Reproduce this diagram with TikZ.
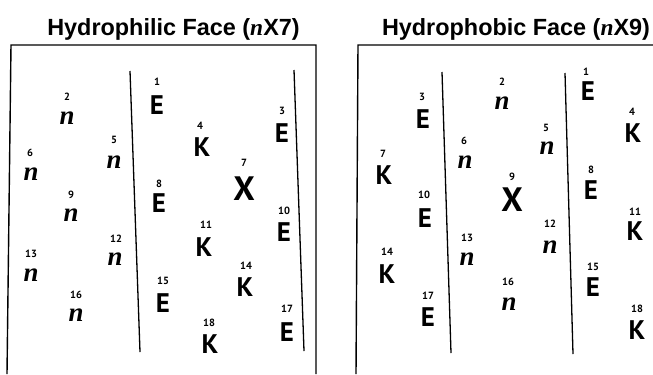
\documentclass[tikz,border=0pt]{standalone}
\usepackage{fontspec}
\setmainfont{Liberation Sans}
\newfontfamily\titlefont{Liberation Sans}
\newfontfamily\serifit{Liberation Serif}
\newfontfamily\resfont{PT Sans}
\begin{document}
\begin{tikzpicture}[x=1bp,y=-1bp,
  frame/.style={line width=1.4bp},
  helixline/.style={line width=1.3bp},
  ttl/.style={inner sep=0, anchor=base, font=\titlefont\bfseries\fontsize{23.5}{24}\selectfont},
  resE/.style={inner sep=0, font=\resfont\bfseries\fontsize{27}{27}\selectfont},
  resX/.style={inner sep=0, font=\resfont\bfseries\fontsize{34}{34}\selectfont},
  resn/.style={inner sep=0, font=\serifit\bfseries\itshape\fontsize{27}{27}\selectfont},
  idx/.style={inner sep=0, font=\resfont\bfseries\fontsize{10.5}{11}\selectfont}]
\useasboundingbox (0,0) rectangle (653,374);
\fill[white] (0,0) rectangle (653,374);

% headings
\node[ttl] (t1) at (173.5,35) {Hydrophilic Face ({\serifit\bfseries\itshape n}X7)};
\node[ttl] (t2) at (516,35) {Hydrophobic Face ({\serifit\bfseries\itshape n}X9)};

% frames (open at the bottom / right where they leave the page)
\draw[frame] (7,374) -- (11,45) -- (316,45) -- (316,374);
\draw[frame] (356,374) -- (358,45) -- (653,45);

% helix boundaries
\draw[helixline] (130,71) -- (140,352);
\draw[helixline] (294,70) -- (304,351);
\draw[helixline] (442,72) -- (451,353);
\draw[helixline] (565,73) -- (573,354);

% ---- hydrophilic face ----
\node[resE] (a1)  at (157,105) {E};  \node[idx] (a1i)  at (157,82)  {1};
\node[resn] (a2)  at (67,118)  {n};  \node[idx] (a2i)  at (67,97)   {2};
\node[resE] (a3)  at (282,133) {E};  \node[idx] (a3i)  at (282,111) {3};
\node[resE] (a4)  at (202,147) {K};  \node[idx] (a4i)  at (200,126) {4};
\node[resn] (a5)  at (114,162) {n};  \node[idx] (a5i)  at (114,140) {5};
\node[resn] (a6)  at (31,174)  {n};  \node[idx] (a6i)  at (30,153)  {6};
\node[resX] (a7)  at (244,189) {X};  \node[idx] (a7i)  at (244,163) {7};
\node[resE] (a8)  at (159,203) {E};  \node[idx] (a8i)  at (159,184) {8};
\node[resn] (a9)  at (71,215)  {n};  \node[idx] (a9i)  at (71,195)  {9};
\node[resE] (a10) at (284,232) {E};  \node[idx] (a10i) at (284,211) {10};
\node[resE] (a11) at (204,247) {K};  \node[idx] (a11i) at (206,225) {11};
\node[resn] (a12) at (115,259) {n};  \node[idx] (a12i) at (116,239) {12};
\node[resn] (a13) at (31,275)  {n};  \node[idx] (a13i) at (31,254)  {13};
\node[resE] (a14) at (245,287) {K};  \node[idx] (a14i) at (246,266) {14};
\node[resE] (a15) at (163,303) {E};  \node[idx] (a15i) at (163,281) {15};
\node[resn] (a16) at (76,315)  {n};  \node[idx] (a16i) at (76,295)  {16};
\node[resE] (a17) at (287,332) {E};  \node[idx] (a17i) at (287,309) {17};
\node[resE] (a18) at (210,344) {K};  \node[idx] (a18i) at (209,323) {18};

% ---- hydrophobic face ----
\node[resE] (b1)  at (588,91)  {E};  \node[idx] (b1i)  at (586,72)  {1};
\node[resn] (b2)  at (502,103) {n};  \node[idx] (b2i)  at (502,82)  {2};
\node[resE] (b3)  at (423,119) {E};  \node[idx] (b3i)  at (422,97)  {3};
\node[resE] (b4)  at (633,133) {K};  \node[idx] (b4i)  at (632,112) {4};
\node[resn] (b5)  at (547,148) {n};  \node[idx] (b5i)  at (546,128) {5};
\node[resn] (b6)  at (465,162) {n};  \node[idx] (b6i)  at (464,141) {6};
\node[resE] (b7)  at (384,175) {K};  \node[idx] (b7i)  at (383,154) {7};
\node[resE] (b8)  at (591,190) {E};  \node[idx] (b8i)  at (591,170) {8};
\node[resX] (b9)  at (512,200) {X};  \node[idx] (b9i)  at (512,177) {9};
\node[resE] (b10) at (425,218) {E};  \node[idx] (b10i) at (424,195) {10};
\node[resE] (b11) at (635,231) {K};  \node[idx] (b11i) at (635,212) {11};
\node[resn] (b12) at (550,247) {n};  \node[idx] (b12i) at (550,224) {12};
\node[resn] (b13) at (467,259) {n};  \node[idx] (b13i) at (467,238) {13};
\node[resE] (b14) at (387,274) {K};  \node[idx] (b14i) at (387,252) {14};
\node[resE] (b15) at (593,287) {E};  \node[idx] (b15i) at (593,267) {15};
\node[resn] (b16) at (509,304) {n};  \node[idx] (b16i) at (508,282) {16};
\node[resE] (b17) at (428,317) {E};  \node[idx] (b17i) at (428,296) {17};
\node[resE] (b18) at (637,330) {K};  \node[idx] (b18i) at (637,309) {18};
\end{tikzpicture}
\end{document}
